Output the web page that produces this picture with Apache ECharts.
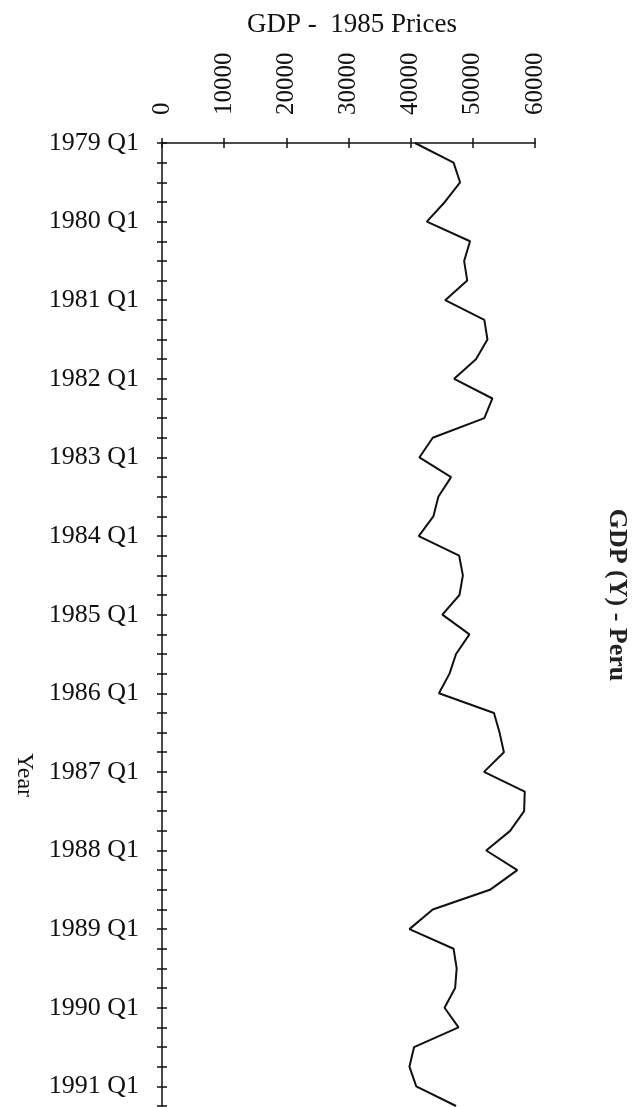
<!DOCTYPE html>
<html>
<head>
<meta charset="utf-8">
<title>GDP (Y) - Peru</title>
<script src="https://cdn.jsdelivr.net/npm/echarts@6/dist/echarts.min.js"></script>
<style>
  html, body { margin: 0; padding: 0; background: #fff; }
  #chart { width: 639px; height: 1107px; }
</style>
</head>
<body>
<div id="chart"></div>
<script>
// quarters shown, 1979 Q1 .. 1991 Q2
var years = [1979, 1980, 1981, 1982, 1983, 1984, 1985, 1986, 1987, 1988, 1989, 1990, 1991];
var quarters = ['Q1', 'Q2', 'Q3', 'Q4'];
var categories = [];
years.forEach(function (y) {
    quarters.forEach(function (q) { categories.push(y + ' ' + q); });
});
categories = categories.slice(0, 50);

// GDP at 1985 prices
var gdp = [
    40700, 46900, 47950, 45500, 42600, 49550, 48600, 49100, 45550, 51850,
    52350, 50500, 47000, 53150, 51850, 43550, 41400, 46500, 44450, 43650,
    41300, 47800, 48400, 47850, 45100, 49450, 47300, 46250, 44550, 53400,
    54300, 55000, 51800, 58350, 58250, 56000, 52150, 57150, 52750, 43550,
    39800, 46900, 47400, 47150, 45450, 47700, 40550, 39800, 40900, 47300
];

var valueTicks = [0, 10000, 20000, 30000, 40000, 50000, 60000];

var font = 'Liberation Serif, Times New Roman, serif';

var run = function () {
    var dom = document.getElementById('chart');
    var myChart = echarts.init(dom);

    var option = {
        backgroundColor: '#ffffff',
        animation: false,
        grid: { left: 162, top: 143, right: 104, bottom: 1, containLabel: false },
        title: {
            text: 'GDP -  1985 Prices',
            left: 347,
            top: 6,
            textAlign: 'center',
            textStyle: { fontFamily: font, fontSize: 27, fontWeight: 'normal', color: '#111' }
        },
        xAxis: [{
            type: 'value',
            position: 'top',
            min: valueTicks[0],
            max: valueTicks[valueTicks.length - 1],
            interval: 10000,
            axisLine: { show: true, lineStyle: { color: '#111', width: 1.5 } },
            axisTick: { show: true, inside: false, length: 5, lineStyle: { color: '#111', width: 1.5 } },
            axisLabel: {
                rotate: -90, margin: 28,
                formatter: function (v) { return String(v); },
                fontFamily: font, fontSize: 25, color: '#111'
            },
            splitLine: { show: false }
        }, {
            type: 'value',
            position: 'top',
            min: valueTicks[0],
            max: valueTicks[valueTicks.length - 1],
            interval: 10000,
            axisLine: { show: false },
            axisTick: { show: true, inside: true, length: 5, lineStyle: { color: '#111', width: 1.5 } },
            axisLabel: { show: false },
            splitLine: { show: false }
        }],
        yAxis: [{
            type: 'category',
            data: categories,
            inverse: true,
            boundaryGap: false,
            axisLine: { show: true, lineStyle: { color: '#111', width: 1.5 } },
            axisTick: { show: true, interval: 0, inside: false, length: 5, lineStyle: { color: '#111', width: 1.5 } },
            axisLabel: { interval: 3, margin: 23, fontFamily: font, fontSize: 26, color: '#111' },
            splitLine: { show: false }
        }, {
            type: 'category',
            data: categories,
            inverse: true,
            boundaryGap: false,
            position: 'left',
            offset: 0,
            axisLine: { show: false },
            axisTick: { show: true, interval: 0, inside: true, length: 5, lineStyle: { color: '#111', width: 1.5 } },
            axisLabel: { show: false },
            splitLine: { show: false }
        }],
        graphic: [{
            type: 'text',
            x: 617, y: 595,
            rotation: -Math.PI / 2,
            style: {
                text: 'GDP (Y) - Peru',
                font: 'bold 26px ' + font,
                fill: '#222',
                align: 'center',
                verticalAlign: 'middle'
            }
        }, {
            type: 'text',
            x: 24, y: 775,
            rotation: -Math.PI / 2,
            style: {
                text: 'Year',
                font: '24px ' + font,
                fill: '#111',
                align: 'center',
                verticalAlign: 'middle'
            }
        }],
        series: [{
            type: 'line',
            data: gdp,
            xAxisIndex: 0,
            yAxisIndex: 0,
            showSymbol: false,
            lineStyle: { color: '#111', width: 2 }
        }]
    };

    myChart.setOption(option);
    window.addEventListener('resize', function () { myChart.resize(); });
};

if (document.readyState === 'complete') {
    run();
} else {
    window.addEventListener('load', run);
}
</script>
</body>
</html>
